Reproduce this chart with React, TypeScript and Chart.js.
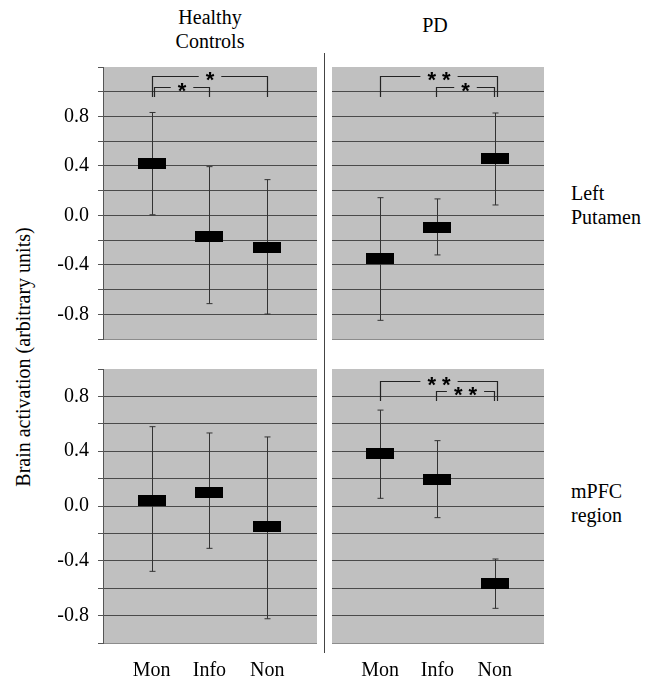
import React, { useEffect, useRef } from 'react';
import { Chart, registerables } from 'chart.js';

Chart.register(...registerables);

// ---------- data ----------
const categories = ['Mon', 'Info', 'Non'];
const categoryPositions = [1, 2, 3];
const yTickValues = [0.8, 0.4, 0.0, -0.4, -0.8];
const yTickLabels = ['0.8', '0.4', '0.0', '-0.4', '-0.8'];

// Left putamen – Healthy controls
const hcPutamenMean = [0.42, -0.167, -0.256];
const hcPutamenLow = [0.005, -0.714, -0.798];
const hcPutamenHigh = [0.832, 0.394, 0.289];
// Left putamen – PD
const pdPutamenMean = [-0.35, -0.102, 0.456];
const pdPutamenLow = [-0.849, -0.32, 0.084];
const pdPutamenHigh = [0.143, 0.133, 0.828];
// mPFC – Healthy controls
const hcMpfcMean = [0.042, 0.102, -0.151];
const hcMpfcLow = [-0.477, -0.309, -0.823];
const hcMpfcHigh = [0.579, 0.533, 0.504];
// mPFC – PD
const pdMpfcMean = [0.385, 0.197, -0.569];
const pdMpfcLow = [0.056, -0.085, -0.747];
const pdMpfcHigh = [0.70, 0.477, -0.387];

// significance brackets (category positions, heights in data units)
const hcPutamenSig = [
  { from: 1.0, to: 3.0, top: 1.127, leg: 0.957, label: '*' },
  { from: 1.05, to: 2.0, top: 1.04, leg: 0.957, label: '*' },
];
const pdPutamenSig = [
  { from: 1.0, to: 3.04, top: 1.127, leg: 0.957, label: '* *' },
  { from: 1.97, to: 2.98, top: 1.04, leg: 0.957, label: '*' },
];
const hcMpfcSig: any[] = [];
const pdMpfcSig = [
  { from: 1.0, to: 3.04, top: 0.915, leg: 0.766, label: '* *' },
  { from: 1.97, to: 2.98, top: 0.84, leg: 0.766, label: '* *' },
];

// ---------- styling ----------
const SERIF = '"Liberation Serif", "DejaVu Serif", "Times New Roman", serif';
const PANEL_GRAY = '#c0c0c0';
const Y_AXIS_W = 60;
const X_AXIS_H = 45;

function makeBoxImage() {
  const c = document.createElement('canvas');
  c.width = 28;
  c.height = 11;
  const ctx = c.getContext('2d')!;
  ctx.fillStyle = '#000';
  ctx.fillRect(0, 0, 28, 11);
  return c;
}

type PanelProps = {
  area: { left: number; top: number; width: number; height: number };
  showY: boolean;
  showX: boolean;
  yMin: number;
  yMax: number;
  mean: number[];
  low: number[];
  high: number[];
  sig: any[];
};

function Panel(p: PanelProps) {
  const ref = useRef<HTMLCanvasElement>(null);
  const leftExtra = p.showY ? Y_AXIS_W : 4;
  const bottomExtra = p.showX ? X_AXIS_H : 4;
  const cw = p.area.width + leftExtra + 4;
  const ch = p.area.height + 4 + bottomExtra;

  useEffect(() => {
    const boxImg = makeBoxImage();

    const bgPlugin = {
      id: 'panelBg',
      beforeDraw(chart: any) {
        const { ctx, chartArea: a } = chart;
        ctx.save();
        ctx.fillStyle = PANEL_GRAY;
        ctx.fillRect(a.left, a.top, a.right - a.left, a.bottom - a.top);
        ctx.restore();
      },
    };

    const errPlugin = {
      id: 'errBars',
      beforeDatasetsDraw(chart: any) {
        const { ctx } = chart;
        const xs = chart.scales.x;
        const ys = chart.scales.y;
        ctx.save();
        ctx.strokeStyle = '#333';
        ctx.lineWidth = 1;
        categoryPositions.forEach((pos, i) => {
          const x = Math.round(xs.getPixelForValue(pos)) + 0.5;
          const yh = ys.getPixelForValue(p.high[i]);
          const yl = ys.getPixelForValue(p.low[i]);
          ctx.beginPath();
          ctx.moveTo(x, yh);
          ctx.lineTo(x, yl);
          ctx.moveTo(x - 3, yh);
          ctx.lineTo(x + 3, yh);
          ctx.moveTo(x - 3, yl);
          ctx.lineTo(x + 3, yl);
          ctx.stroke();
        });
        ctx.restore();
      },
    };

    const sigPlugin = {
      id: 'sigBrackets',
      afterDatasetsDraw(chart: any) {
        const { ctx } = chart;
        const xs = chart.scales.x;
        const ys = chart.scales.y;
        ctx.save();
        ctx.strokeStyle = '#222';
        ctx.lineWidth = 1.2;
        ctx.font = 'bold 22px "Liberation Sans", Arial, sans-serif';
        for (const b of p.sig) {
          const x1 = Math.round(xs.getPixelForValue(b.from)) + 0.5;
          const x2 = Math.round(xs.getPixelForValue(b.to)) + 0.5;
          const yt = Math.round(ys.getPixelForValue(b.top)) + 0.5;
          const yl = ys.getPixelForValue(b.leg);
          const mid = (x1 + x2) / 2;
          const m = ctx.measureText(b.label);
          const gap = m.width / 2 + 7;
          ctx.beginPath();
          ctx.moveTo(x1, yl);
          ctx.lineTo(x1, yt);
          ctx.lineTo(mid - gap, yt);
          ctx.moveTo(mid + gap, yt);
          ctx.lineTo(x2, yt);
          ctx.lineTo(x2, yl);
          ctx.stroke();
          ctx.fillStyle = '#000';
          ctx.textAlign = 'center';
          ctx.textBaseline = 'alphabetic';
          const asc = m.actualBoundingBoxAscent;
          const desc = m.actualBoundingBoxDescent;
          ctx.fillText(b.label, mid, yt + (asc - desc) / 2);
        }
        ctx.restore();
      },
    };

    const near = (a: number, b: number) => Math.abs(a - b) < 1e-6;

    const chart = new Chart(ref.current!, {
      type: 'scatter',
      data: {
        datasets: [
          {
            data: categoryPositions.map((x, i) => ({ x, y: p.mean[i] })),
            pointStyle: boxImg as any,
            pointRadius: 10,
            backgroundColor: '#000',
            borderColor: '#000',
            showLine: false,
            clip: false,
          },
        ],
      },
      options: {
        animation: false,
        responsive: false,
        devicePixelRatio: 1,
        events: [],
        layout: {
          autoPadding: false,
          padding: { top: 4, right: 4, bottom: p.showX ? 0 : 4, left: p.showY ? 0 : 4 },
        },
        plugins: {
          legend: { display: false },
          tooltip: { enabled: false },
          title: { display: false },
        },
        scales: {
          x: {
            type: 'linear',
            min: 0.16,
            max: 3.86,
            display: p.showX,
            afterBuildTicks: (axis: any) => {
              axis.ticks = categoryPositions.map((v) => ({ value: v }));
            },
            afterFit: (axis: any) => {
              axis.height = p.showX ? X_AXIS_H : 0;
              axis.paddingLeft = 0;
              axis.paddingRight = 0;
            },
            grid: { display: false, drawTicks: false },
            border: { display: false },
            ticks: {
              padding: 16,
              color: '#000',
              font: { family: SERIF, size: 20 },
              maxRotation: 0,
              autoSkip: false,
              callback: (v: any) => categories[categoryPositions.indexOf(Number(v))] ?? '',
            },
          },
          y: {
            type: 'linear',
            min: p.yMin,
            max: p.yMax,
            afterFit: (axis: any) => {
              axis.width = p.showY ? Y_AXIS_W : 0;
              axis.paddingTop = 0;
              axis.paddingBottom = 0;
            },
            grid: {
              drawTicks: p.showY,
              tickLength: 5,
              tickColor: '#555',
              lineWidth: 1,
              color: (ctx: any) => {
                const v = ctx.tick ? ctx.tick.value : 0;
                if (near(v, p.yMax)) return 'rgba(0,0,0,0)';
                if (near(v, p.yMin)) return '#8c8c8c';
                return '#4a4a4a';
              },
            },
            border: { display: p.showY, color: '#555', width: 1 },
            ticks: {
              display: p.showY,
              stepSize: 0.2,
              padding: 9,
              color: '#000',
              font: { family: SERIF, size: 20 },
              autoSkip: false,
              callback: (v: any) => {
                const idx = yTickValues.findIndex((t) => near(t, Number(v)));
                return idx >= 0 ? yTickLabels[idx] : '';
              },
            },
          },
        },
      } as any,
      plugins: [bgPlugin, errPlugin, sigPlugin],
    });
    return () => chart.destroy();
  }, []);

  return (
    <canvas
      ref={ref}
      width={cw}
      height={ch}
      style={{
        position: 'absolute',
        left: p.area.left - leftExtra,
        top: p.area.top - 4,
        width: cw,
        height: ch,
      }}
    />
  );
}

const textBase: React.CSSProperties = {
  position: 'absolute',
  fontFamily: SERIF,
  fontSize: 20,
  lineHeight: '24px',
  color: '#000',
  whiteSpace: 'nowrap',
};

export default function App() {
  return (
    <div
      style={{
        position: 'fixed',
        left: 0,
        top: 0,
        width: 647,
        height: 683,
        background: '#fff',
        overflow: 'hidden',
      }}
    >
      <div style={{ ...textBase, left: 110, top: 5, width: 200, textAlign: 'center' }}>
        Healthy
        <br />
        Controls
      </div>
      <div style={{ ...textBase, left: 385, top: 13, width: 100, textAlign: 'center' }}>PD</div>
      <div style={{ ...textBase, left: 571, top: 181 }}>
        Left
        <br />
        Putamen
      </div>
      <div style={{ ...textBase, left: 571, top: 479 }}>
        mPFC
        <br />
        region
      </div>
      <div
        style={{
          ...textBase,
          left: 23 - 200,
          top: 357 - 12,
          width: 400,
          height: 24,
          textAlign: 'center',
          transform: 'rotate(-90deg)',
        }}
      >
        Brain activation (arbitrary units)
      </div>
      <div style={{ position: 'absolute', left: 324, top: 53, width: 1, height: 600, background: '#444' }} />

      <Panel
        area={{ left: 103, top: 67, width: 214, height: 272 }}
        showY={true}
        showX={false}
        yMin={-1}
        yMax={1.2}
        mean={hcPutamenMean}
        low={hcPutamenLow}
        high={hcPutamenHigh}
        sig={hcPutamenSig}
      />
      <Panel
        area={{ left: 332, top: 67, width: 212, height: 272 }}
        showY={false}
        showX={false}
        yMin={-1}
        yMax={1.2}
        mean={pdPutamenMean}
        low={pdPutamenLow}
        high={pdPutamenHigh}
        sig={pdPutamenSig}
      />
      <Panel
        area={{ left: 103, top: 369, width: 214, height: 274 }}
        showY={true}
        showX={true}
        yMin={-1}
        yMax={1}
        mean={hcMpfcMean}
        low={hcMpfcLow}
        high={hcMpfcHigh}
        sig={hcMpfcSig}
      />
      <Panel
        area={{ left: 332, top: 369, width: 212, height: 274 }}
        showY={false}
        showX={true}
        yMin={-1}
        yMax={1}
        mean={pdMpfcMean}
        low={pdMpfcLow}
        high={pdMpfcHigh}
        sig={pdMpfcSig}
      />
    </div>
  );
}
